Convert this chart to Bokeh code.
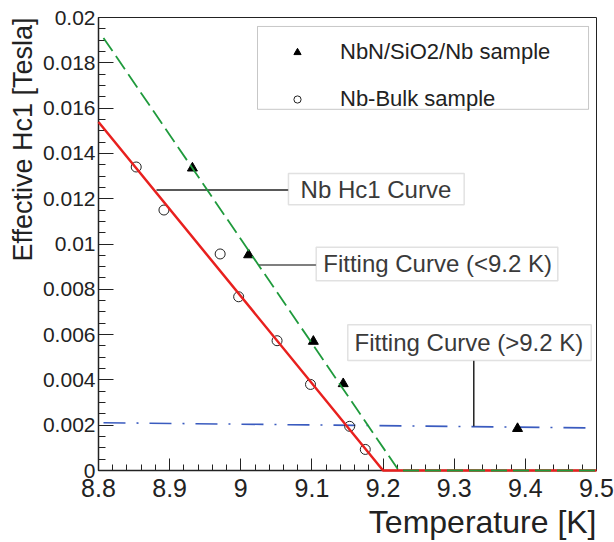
import numpy as np
from bokeh.plotting import figure
from bokeh.models import (FixedTicker, BoxAnnotation, Label, Legend, LegendItem,
                          Range1d, Title)
from bokeh.embed import file_html
from bokeh.resources import INLINE

# ---------------- data ----------------
nbn_T = [8.932, 9.011, 9.102, 9.144, 9.389]
nbn_H = [0.01335, 0.00952, 0.00570, 0.00383, 0.00185]

bulk_T = [8.853, 8.892, 8.971, 8.997, 9.051, 9.098, 9.153, 9.175]
bulk_H = [0.01340, 0.01150, 0.00956, 0.00767, 0.00573, 0.00380, 0.00195, 0.00093]

nb_hc1_T = [8.8, 9.2, 9.5]
nb_hc1_H = [0.01539, 0.0, 0.0]

fit_low_T = [8.807, 9.222, 9.5]
fit_low_H = [0.0191, 0.0, 0.0]

fit_high_T = [8.807, 9.49]
fit_high_H = [0.00211, 0.00188]

x_ticks = [8.8, 8.9, 9.0, 9.1, 9.2, 9.3, 9.4, 9.5]
x_tick_labels = ["8.8", "8.9", "9", "9.1", "9.2", "9.3", "9.4", "9.5"]
y_ticks = [0.0, 0.002, 0.004, 0.006, 0.008, 0.01, 0.012, 0.014, 0.016, 0.018, 0.02]
y_tick_labels = ["0", "0.002", "0.004", "0.006", "0.008", "0.01", "0.012",
                 "0.014", "0.016", "0.018", "0.02"]

FONT = "Liberation Sans"

p = figure(width=614, height=542, x_range=Range1d(8.8, 9.5), y_range=Range1d(0, 0.02),
           output_backend="svg", toolbar_location=None,
           min_border_left=98, min_border_right=18, min_border_top=17, min_border_bottom=71)
p.xgrid.visible = False
p.ygrid.visible = False
p.outline_line_color = "#222222"
p.outline_line_width = 1
p.background_fill_color = "white"

xa = p.xaxis[0]
ya = p.yaxis[0]
xa.ticker = FixedTicker(ticks=x_ticks,
                        minor_ticks=[round(v, 4) for v in np.arange(8.8, 9.5001, 0.02)])
ya.ticker = FixedTicker(ticks=y_ticks,
                        minor_ticks=[round(v, 5) for v in np.arange(0, 0.02001, 0.0005)])
xa.major_label_overrides = dict(zip(x_ticks, x_tick_labels))
ya.major_label_overrides = dict(zip(y_ticks, y_tick_labels))
for ax in (xa, ya):
    ax.major_tick_out = 0
    ax.minor_tick_out = 0
    ax.axis_line_width = 1.5
    ax.axis_line_color = "#222222"
    ax.major_tick_line_color = "#222222"
    ax.minor_tick_line_color = "#222222"
    ax.major_label_text_font = FONT
    ax.major_label_text_color = "#222222"
xa.major_tick_in = 12
xa.minor_tick_in = 6
xa.major_label_text_font_size = "25px"
xa.major_label_standoff = 8
ya.major_tick_in = 15
ya.minor_tick_in = 7
ya.major_label_text_font_size = "21px"
ya.major_label_standoff = 3

# ---------------- curves ----------------
p.line(nb_hc1_T, nb_hc1_H, line_color="#e8201e", line_width=2.5, level="overlay")
p.line(fit_low_T, fit_low_H, line_color="#1f9a3c", line_width=1.8, line_dash="16 6",
       level="overlay")
p.line(fit_high_T, fit_high_H, line_color="#3a5bbf", line_width=1.6, line_dash="22 11 2 11")

# ---------------- leader lines ----------------
p.line([8.8815, 9.067], [0.01238, 0.01238], line_color="#222222", line_width=1.5)
p.line([9.025, 9.106], [0.009075, 0.009075], line_color="#555555", line_width=1.5)
p.line([9.3275, 9.3275], [0.00486, 0.00195], line_color="#222222", line_width=1.5)

# ---------------- points ----------------
r_nbn = p.scatter(nbn_T, nbn_H, marker="triangle", size=10, fill_color="black",
                  line_color="black")
r_bulk = p.scatter(bulk_T, bulk_H, marker="circle", size=10, fill_color="white",
                   fill_alpha=0, line_color="#222222", line_width=1)

# ---------------- annotation boxes ----------------
TXT = "#3a3a3a"
boxes = [
    (9.067, 9.314, 0.013115, 0.011730),
    (9.106, 9.4456, 0.009855, 0.008383),
    (9.1504, 9.4926, 0.006432, 0.004859),
]
for (l, r, t, b) in boxes:
    p.add_layout(BoxAnnotation(left=l, right=r, top=t, bottom=b, fill_color="white",
                               fill_alpha=1, line_color="#9a9a9a", line_width=1.5,
                               level="annotation"))
texts = [
    ("Nb Hc1 Curve", 9.084, 0.012423),
    ("Fitting Curve (<9.2 K)", 9.1159, 0.009119),
    ("Fitting Curve (>9.2 K)", 9.1599, 0.005645),
]
for (s, x, y) in texts:
    p.add_layout(Label(x=x, y=y, text=s, text_align="left", text_baseline="middle",
                       text_font=FONT, text_font_size="24px", text_color=TXT))

# ---------------- legend ----------------
p.add_layout(BoxAnnotation(left=9.0235, right=9.4888, top=0.019604, bottom=0.015947,
                           fill_color="white", fill_alpha=1, line_color="#444444",
                           line_width=1))
legend = Legend(items=[LegendItem(label="NbN/SiO2/Nb sample", renderers=[r_nbn]),
                       LegendItem(label="Nb-Bulk sample", renderers=[r_bulk])],
                location=(190, 358), padding=0, margin=0, spacing=21,
                glyph_width=18, glyph_height=26, label_height=26, label_standoff=34,
                border_line_alpha=0, background_fill_alpha=0,
                label_text_font=FONT, label_text_font_size="22px",
                label_text_color="#222222")
p.add_layout(legend, "center")

# ---------------- axis titles ----------------
xt = Title(text="Temperature [K]", align="right", text_font=FONT, text_font_size="32px",
           text_font_style="normal", text_color="#222222", standoff=5, offset=0)
p.add_layout(xt, "below")
yt = Title(text="Effective Hc1 [Tesla]", align="right", text_font=FONT,
           text_font_size="27px", text_font_style="normal", text_color="#222222",
           standoff=3, offset=0)
p.add_layout(yt, "left")

open("out.html", "w").write(file_html(p, INLINE))
